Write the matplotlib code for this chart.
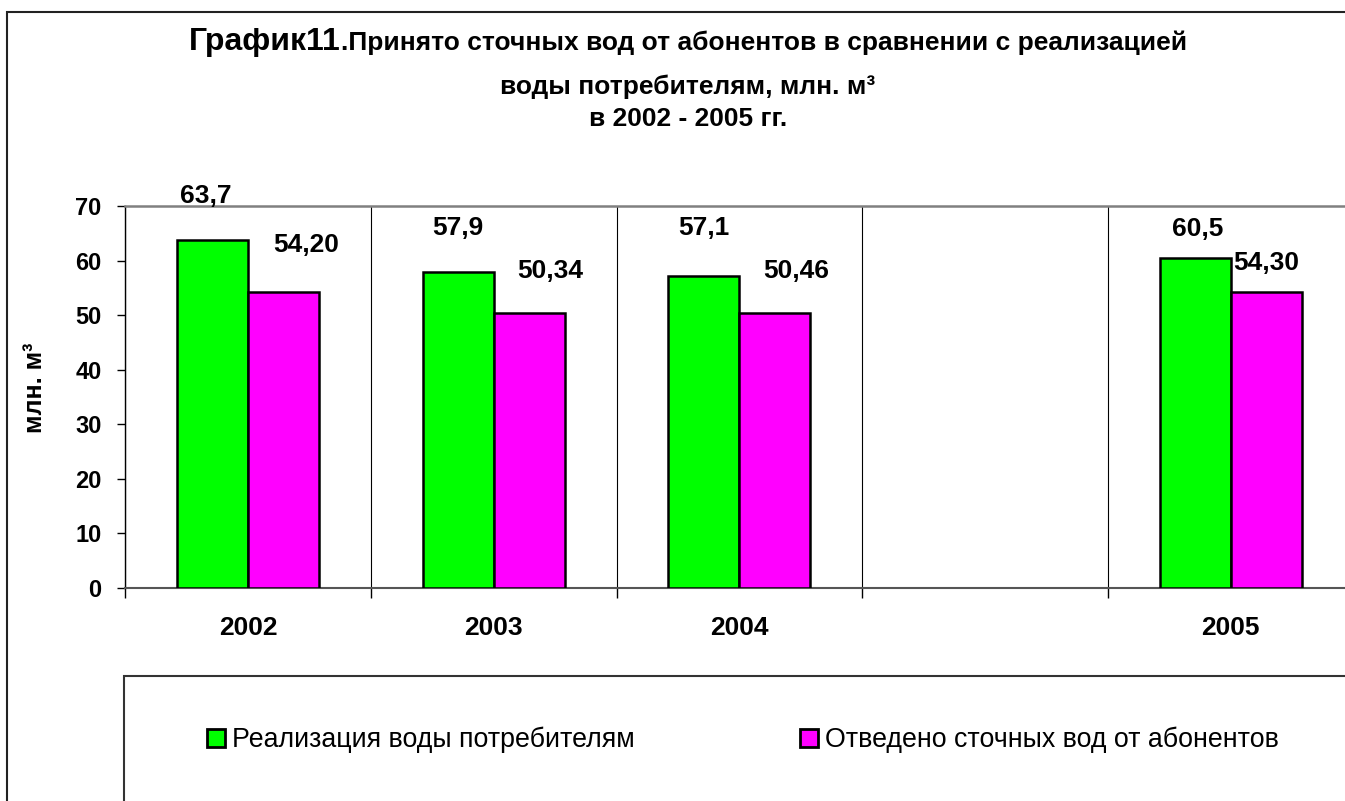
import numpy as np
import matplotlib
matplotlib.use("Agg")
import matplotlib.pyplot as plt
from matplotlib.patches import Rectangle

plt.rcParams['font.family'] = ['Liberation Sans', 'DejaVu Sans']

# data (4th slot is empty in the original chart)
years = ['2002', '2003', '2004', '', '2005']
sold = [63.7, 57.9, 57.1, np.nan, 60.5]        # Реализация воды потребителям
drained = [54.20, 50.34, 50.46, np.nan, 54.30]  # Отведено сточных вод от абонентов
series_names = ['Реализация воды потребителям', 'Отведено сточных вод от абонентов']
yticks = [0, 10, 20, 30, 40, 50, 60, 70]

# label offsets in pixels (manually placed in the source)
sold_off = [(-7, 44), (0, 44), (0, 48), (0, 0), (2, 29)]
drained_off = [(23, 47), (21, 42), (21, 42), (0, 0), (0, 29)]

W, H = 1345, 801
fig = plt.figure(figsize=(W / 100, H / 100), dpi=100)

def fx(px):
    return px / W

def fy(py):
    return 1 - py / H

# outer chart frame (cut off at right / bottom)
fig.patches.append(Rectangle((fx(7), fy(H + 20)), fx(W + 20 - 7), fy(12) - fy(H + 20),
                             transform=fig.transFigure, fill=False,
                             edgecolor='#222222', linewidth=1.5))

ax = fig.add_axes([fx(125), fy(588), fx(1353.75 - 125), fy(206) - fy(588)])
ax.set_facecolor('none')

x = np.arange(len(years))
w = 0.289
b1 = ax.bar(x - w / 2, sold, w, color='#00FF00', edgecolor='black', linewidth=1.8,
            label=series_names[0], zorder=3)
b2 = ax.bar(x + w / 2, drained, w, color='#FF00FF', edgecolor='black', linewidth=1.8,
            label=series_names[1], zorder=3)

for i in range(len(years)):
    if np.isnan(sold[i]):
        continue
    ax.annotate(f'{sold[i]:.1f}'.replace('.', ','), (x[i] - w / 2, sold[i]),
                xytext=sold_off[i], textcoords='offset pixels', ha='center', va='center',
                fontsize=19, fontweight='bold', annotation_clip=False)
    ax.annotate(f'{drained[i]:.2f}'.replace('.', ','), (x[i] + w / 2, drained[i]),
                xytext=drained_off[i], textcoords='offset pixels', ha='center', va='center',
                fontsize=19, fontweight='bold', annotation_clip=False)

ax.set_xlim(-0.5, len(years) - 0.5)
ax.set_ylim(0, 70)
ax.set_yticks(yticks)
ax.set_yticklabels([str(v) for v in yticks], fontsize=17, fontweight='bold')
ax.tick_params(axis='y', direction='out', length=6, width=1, pad=11)

# category boundaries carry ticks + gridlines, centres carry the labels
ax.set_xticks(np.arange(len(years) + 1) - 0.5)
ax.set_xticklabels([])
ax.set_xticks(x, minor=True)
ax.set_xticklabels(years, minor=True, fontsize=19, fontweight='bold')
ax.tick_params(axis='x', which='major', direction='out', length=7, width=1)
ax.tick_params(axis='x', which='minor', length=0, pad=20)
ax.grid(axis='x', which='major', color='black', linewidth=0.8, zorder=1)

ax.spines['right'].set_visible(False)
ax.spines['top'].set_color('#808080')
ax.spines['top'].set_linewidth(1.8)
ax.spines['left'].set_linewidth(1)
ax.spines['bottom'].set_color('#555555')
ax.spines['bottom'].set_linewidth(1.5)

fig.text(fx(35), fy(388), 'млн. м³', rotation=90, ha='center', va='center',
         fontsize=18, fontweight='bold')

# title, first line mixes two sizes
t1 = fig.text(0, fy(50), 'График11', fontsize=23, fontweight='bold', va='baseline')
t2 = fig.text(0, fy(50), '.Принято сточных вод от абонентов в сравнении с реализацией',
              fontsize=19, fontweight='bold', va='baseline')
fig.canvas.draw()
r = fig.canvas.get_renderer()
w1 = t1.get_window_extent(r).width
w2 = t2.get_window_extent(r).width
left = 688 - (w1 + w2) / 2
t1.set_x(fx(left))
t2.set_x(fx(left + w1))
fig.text(fx(688), fy(94), 'воды потребителям, млн. м³', ha='center', va='baseline',
         fontsize=19, fontweight='bold')
fig.text(fx(688), fy(126), 'в 2002 - 2005 гг.', ha='center', va='baseline',
         fontsize=19, fontweight='bold')

# legend box
fig.patches.append(Rectangle((fx(124), fy(H + 20)), fx(W + 20 - 124), fy(676) - fy(H + 20),
                             transform=fig.transFigure, fill=False,
                             edgecolor='#333333', linewidth=1.5))
leg = fig.legend(handles=[b1, b2], loc='center left', bbox_to_anchor=(fx(207), fy(740)),
                 ncol=2, frameon=False, fontsize=19.3, handlelength=0.67, handleheight=0.67,
                 handletextpad=0.27, columnspacing=6.15, borderaxespad=0, borderpad=0)
for p in leg.legend_handles:
    p.set_linewidth(2)

fig.savefig('out.png', dpi=100)
